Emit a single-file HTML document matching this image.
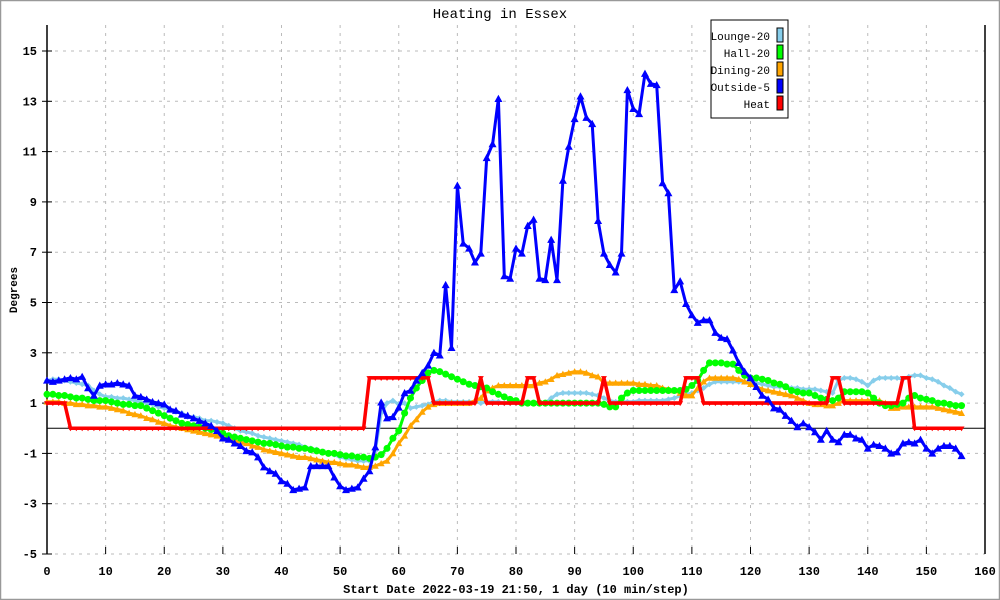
<!DOCTYPE html>
<html><head><meta charset="utf-8"><style>
html,body{margin:0;padding:0;background:#fff}
svg{display:block}
text{font-family:"Liberation Mono",monospace}
</style></head><body>
<svg id="chart" width="1000" height="600" viewBox="0 0 1000 600" xmlns="http://www.w3.org/2000/svg">
<rect x="0.5" y="0.5" width="999" height="599" fill="#fff" stroke="#999" stroke-width="1.5"/>
<text x="500" y="18" text-anchor="middle" font-size="14">Heating in Essex</text>
<text x="0" y="0" transform="translate(17,290) rotate(-90)" text-anchor="middle" font-size="11" font-weight="bold">Degrees</text>
<text x="516" y="593" text-anchor="middle" font-size="12" font-weight="bold">Start Date 2022-03-19 21:50, 1 day (10 min/step)</text>
<g id="grid"></g>
<g id="axes"></g>
<g id="series"></g>
<g>
<rect x="711" y="20" width="77" height="98" fill="#fff" stroke="#000" stroke-width="1"/>
<text x="770" y="40" text-anchor="end" font-size="11">Lounge-20</text>
<rect x="777" y="28" width="6" height="14" fill="#87ceeb" stroke="#000"/>
<text x="770" y="57" text-anchor="end" font-size="11">Hall-20</text>
<rect x="777" y="45" width="6" height="14" fill="#00ff00" stroke="#000"/>
<text x="770" y="74" text-anchor="end" font-size="11">Dining-20</text>
<rect x="777" y="62" width="6" height="14" fill="#ffa500" stroke="#000"/>
<text x="770" y="91" text-anchor="end" font-size="11">Outside-5</text>
<rect x="777" y="79" width="6" height="14" fill="#0000ff" stroke="#000"/>
<text x="770" y="108" text-anchor="end" font-size="11">Heat</text>
<rect x="777" y="96" width="6" height="14" fill="#ff0000" stroke="#000"/>
</g>
</svg>
<script>
const xTicks=[0,10,20,30,40,50,60,70,80,90,100,110,120,130,140,150,160];
const yTicks=[-5,-3,-1,1,3,5,7,9,11,13,15];
const outside=[1.9,1.85,1.9,1.95,2.0,1.95,2.05,1.6,1.3,1.7,
1.75,1.75,1.8,1.75,1.7,1.3,1.25,1.15,1.05,1.0,
0.95,0.75,0.7,0.55,0.5,0.4,0.3,0.2,0.1,-0.1,
-0.4,-0.45,-0.6,-0.7,-0.9,-0.95,-1.15,-1.55,-1.7,-1.8,
-2.1,-2.2,-2.45,-2.4,-2.35,-1.5,-1.5,-1.5,-1.5,-1.95,
-2.3,-2.45,-2.4,-2.35,-2.0,-1.7,-0.75,1.03,0.4,0.45,
0.83,1.4,1.5,1.9,2.2,2.5,3.0,2.9,5.7,3.2,
9.65,7.35,7.15,6.6,6.95,10.75,11.3,13.1,6.05,5.95,
7.15,6.95,8.05,8.3,5.95,5.9,7.5,5.9,9.85,11.2,
12.3,13.2,12.35,12.1,8.25,6.95,6.5,6.2,6.95,13.45,
12.7,12.5,14.1,13.7,13.65,9.75,9.35,5.5,5.85,4.95,
4.5,4.2,4.3,4.3,3.8,3.6,3.55,3.1,2.6,2.25,
2.0,1.65,1.3,1.15,0.8,0.75,0.5,0.3,0.05,0.2,
0.05,-0.15,-0.45,-0.1,-0.45,-0.55,-0.25,-0.25,-0.4,-0.45,
-0.8,-0.65,-0.7,-0.8,-1.0,-0.95,-0.6,-0.55,-0.6,-0.45,
-0.8,-1.0,-0.8,-0.7,-0.7,-0.8,-1.1];
const lounge=[1.9,1.95,1.95,1.9,1.85,1.8,1.75,1.7,1.5,1.35,
1.25,1.25,1.2,1.2,1.15,1.1,1.05,1.0,0.95,0.85,
0.8,0.75,0.65,0.6,0.45,0.45,0.4,0.3,0.3,0.25,
0.2,0.1,0.0,-0.1,-0.15,-0.2,-0.3,-0.35,-0.4,-0.45,
-0.5,-0.55,-0.6,-0.65,-0.75,-0.8,-0.85,-0.95,-1.0,-1.05,
-1.15,-1.2,-1.25,-1.3,-1.3,-1.3,-0.9,0.6,1.0,1.1,
0.95,1.0,0.8,0.85,0.9,0.95,1.05,1.1,1.1,1.05,
1.05,1.05,1.05,1.05,1.0,1.05,1.05,1.05,1.0,1.0,
1.0,1.0,1.0,1.0,1.0,1.0,1.2,1.35,1.4,1.4,
1.4,1.4,1.4,1.35,1.3,1.2,1.1,1.05,1.05,1.05,
1.05,1.1,1.1,1.1,1.1,1.1,1.15,1.2,1.3,1.35,
1.4,1.5,1.6,1.75,1.85,1.85,1.85,1.85,1.85,1.85,
1.8,1.8,1.75,1.7,1.65,1.65,1.65,1.6,1.6,1.55,
1.55,1.55,1.5,1.45,1.4,1.9,2.0,2.0,1.95,1.85,
1.7,1.9,2.0,2.0,2.0,2.0,1.95,2.05,2.1,2.1,
2.0,1.95,1.85,1.7,1.6,1.45,1.35];
const hall=[1.35,1.35,1.3,1.3,1.25,1.2,1.2,1.15,1.1,1.1,
1.1,1.05,1.0,0.95,0.95,0.9,0.9,0.8,0.7,0.6,
0.5,0.4,0.3,0.2,0.15,0.1,0.05,0.0,-0.05,-0.1,
-0.2,-0.3,-0.35,-0.4,-0.45,-0.5,-0.55,-0.6,-0.6,-0.65,
-0.7,-0.75,-0.75,-0.8,-0.8,-0.85,-0.9,-0.95,-1.0,-1.0,
-1.05,-1.1,-1.1,-1.15,-1.15,-1.2,-1.15,-1.05,-0.8,-0.4,
-0.1,0.6,1.2,1.6,1.9,2.2,2.3,2.25,2.15,2.05,
1.95,1.85,1.75,1.7,1.65,1.6,1.45,1.35,1.25,1.15,
1.1,1.0,1.0,1.0,1.0,1.0,1.0,1.0,1.0,1.0,
1.0,1.0,1.0,1.0,1.0,0.95,0.85,0.85,1.2,1.4,
1.5,1.5,1.5,1.5,1.5,1.5,1.5,1.5,1.5,1.55,
1.7,1.9,2.3,2.6,2.6,2.6,2.55,2.55,2.3,2.1,
2.0,2.0,1.95,1.9,1.8,1.75,1.65,1.5,1.45,1.4,
1.4,1.3,1.2,1.15,1.1,1.2,1.45,1.45,1.45,1.45,
1.4,1.2,1.0,0.9,0.9,0.95,1.0,1.2,1.3,1.2,
1.15,1.1,1.0,1.0,0.95,0.9,0.9];
const dining=[1.05,1.05,1.05,1.0,1.0,0.95,0.95,0.9,0.9,0.85,
0.85,0.8,0.75,0.7,0.6,0.55,0.5,0.4,0.35,0.25,
0.2,0.1,0.05,0.0,-0.05,-0.1,-0.15,-0.2,-0.25,-0.3,
-0.35,-0.4,-0.5,-0.55,-0.6,-0.7,-0.75,-0.85,-0.9,-0.95,
-1.0,-1.05,-1.1,-1.15,-1.15,-1.2,-1.25,-1.3,-1.35,-1.35,
-1.4,-1.45,-1.45,-1.5,-1.55,-1.55,-1.5,-1.4,-1.3,-1.0,
-0.6,-0.3,0.1,0.35,0.65,0.85,0.95,1.0,1.0,1.0,
1.0,1.0,1.0,1.1,1.2,1.5,1.6,1.7,1.7,1.7,
1.7,1.7,1.7,1.7,1.8,1.85,1.95,2.1,2.15,2.2,
2.25,2.25,2.2,2.1,2.05,1.8,1.8,1.8,1.8,1.8,
1.8,1.75,1.75,1.7,1.7,1.6,1.55,1.5,1.4,1.3,
1.3,1.6,1.85,2.0,2.0,2.0,2.0,2.0,1.95,1.85,
1.75,1.65,1.55,1.5,1.45,1.4,1.35,1.3,1.2,1.1,
1.0,0.95,0.95,0.9,0.9,1.0,1.1,1.1,1.1,1.1,
1.1,1.1,1.1,1.0,0.8,0.8,0.85,0.85,0.85,0.85,
0.85,0.85,0.8,0.75,0.7,0.65,0.6];
const heat=[1,1,1,1,
0,0,0,0,0,0,0,0,0,0,0,0,0,0,0,0,0,0,0,0,0,0,0,0,0,0,0,0,0,0,0,0,0,0,0,0,0,0,0,0,0,0,0,0,0,0,0,0,0,0,0,
2,2,2,2,2,2,2,2,2,2,2,
1,1,1,1,1,1,1,1,
2,
1,1,1,1,1,1,1,
2,2,
1,1,1,1,1,1,1,1,1,1,1,
2,
1,1,1,1,1,1,1,1,1,1,1,1,1,
2,2,2,
1,1,1,1,1,1,1,1,1,1,1,1,1,1,1,1,1,1,1,1,1,1,
2,2,
1,1,1,1,1,1,1,1,1,1,
2,2,
0,0,0,0,0,0,0,0,0];

const NS='http://www.w3.org/2000/svg';
const X0=47,X1=985,Y15=51,Ym5=554;
function xs(v){return X0+(v-0)*(X1-X0)/160;}
function ys(v){return Ym5-(v+5)*(Ym5-Y15)/20;}
function mk(tag,attrs,parent){const e=document.createElementNS(NS,tag);for(const k in attrs)e.setAttribute(k,attrs[k]);parent.appendChild(e);return e;}
const grid=document.getElementById('grid'),axes=document.getElementById('axes'),series=document.getElementById('series');

for(const t of xTicks){
  if(t>0&&t<160){
    const g=mk('line',{x1:xs(t),x2:xs(t),y1:25,y2:Ym5,stroke:'#bbb','stroke-dasharray':'3,5'},grid);
    
    
  }
  const tk=mk('line',{x1:xs(t),x2:xs(t),y1:Ym5-7,y2:Ym5,stroke:'#000','stroke-width':1},axes);
  
  
  const lb=mk('text',{x:xs(t),y:Ym5+21,'text-anchor':'middle','font-size':12,'font-weight':'bold'},axes);
  lb.textContent=t;
  
  
}
for(const t of yTicks){
  const g=mk('line',{x1:X0,x2:X1,y1:ys(t),y2:ys(t),stroke:'#bbb','stroke-dasharray':'3,5'},grid);
  
  
  const tk=mk('line',{x1:X0-5,x2:X0+5,y1:ys(t),y2:ys(t),stroke:'#000'},axes);
  
  
  const lb=mk('text',{x:37,y:ys(t)+4,'text-anchor':'end','font-size':12,'font-weight':'bold'},axes);
  lb.textContent=t;
  
  
}
const la=mk('line',{x1:X0,x2:X0,y1:25,y2:Ym5,stroke:'#000','stroke-width':1.5},axes);


const ra=mk('line',{x1:X1,x2:X1,y1:25,y2:Ym5,stroke:'#000','stroke-width':1.5},axes);


const zl=mk('line',{x1:X0,x2:X1,y1:ys(0),y2:ys(0),stroke:'#000','stroke-width':1},axes);



function marker(shape,x,y,color,s,parent){
  if(shape==='circle')return mk('circle',{cx:x,cy:y,r:s,fill:color},parent);
  if(shape==='up')return mk('polygon',{points:`${x},${y-s} ${x-s},${y+s*0.8} ${x+s},${y+s*0.8}`,fill:color},parent);
  if(shape==='down')return mk('polygon',{points:`${x},${y+s} ${x-s},${y-s*0.6} ${x+s},${y-s*0.6}`,fill:color},parent);
  return mk('polygon',{points:`${x},${y-s} ${x+s},${y} ${x},${y+s} ${x-s},${y}`,fill:color},parent);
}
function drawSeries(name,data,color,width,shape,size){
  const g=mk('g',{},series);
  
  
  const pts=data.map((v,i)=>xs(i).toFixed(1)+','+ys(v).toFixed(1)).join(' ');
  const pl=mk('polyline',{points:pts,fill:'none',stroke:color,'stroke-width':width,'stroke-linejoin':'round'},g);
  
  
  data.forEach((v,i)=>{
    const m=marker(shape,xs(i),ys(v),color,size,g);
    
    
  });
}
drawSeries('lounge',lounge,'#87ceeb',3,'diamond',3);
drawSeries('dining',dining,'#ffa500',3,'up',3.5);
drawSeries('hall',hall,'#00ff00',3,'circle',3.5);
drawSeries('heat',heat,'#ff0000',3.5,'down',3);
drawSeries('outside',outside,'#0000ff',3,'up',4);
</script>
</body></html>
